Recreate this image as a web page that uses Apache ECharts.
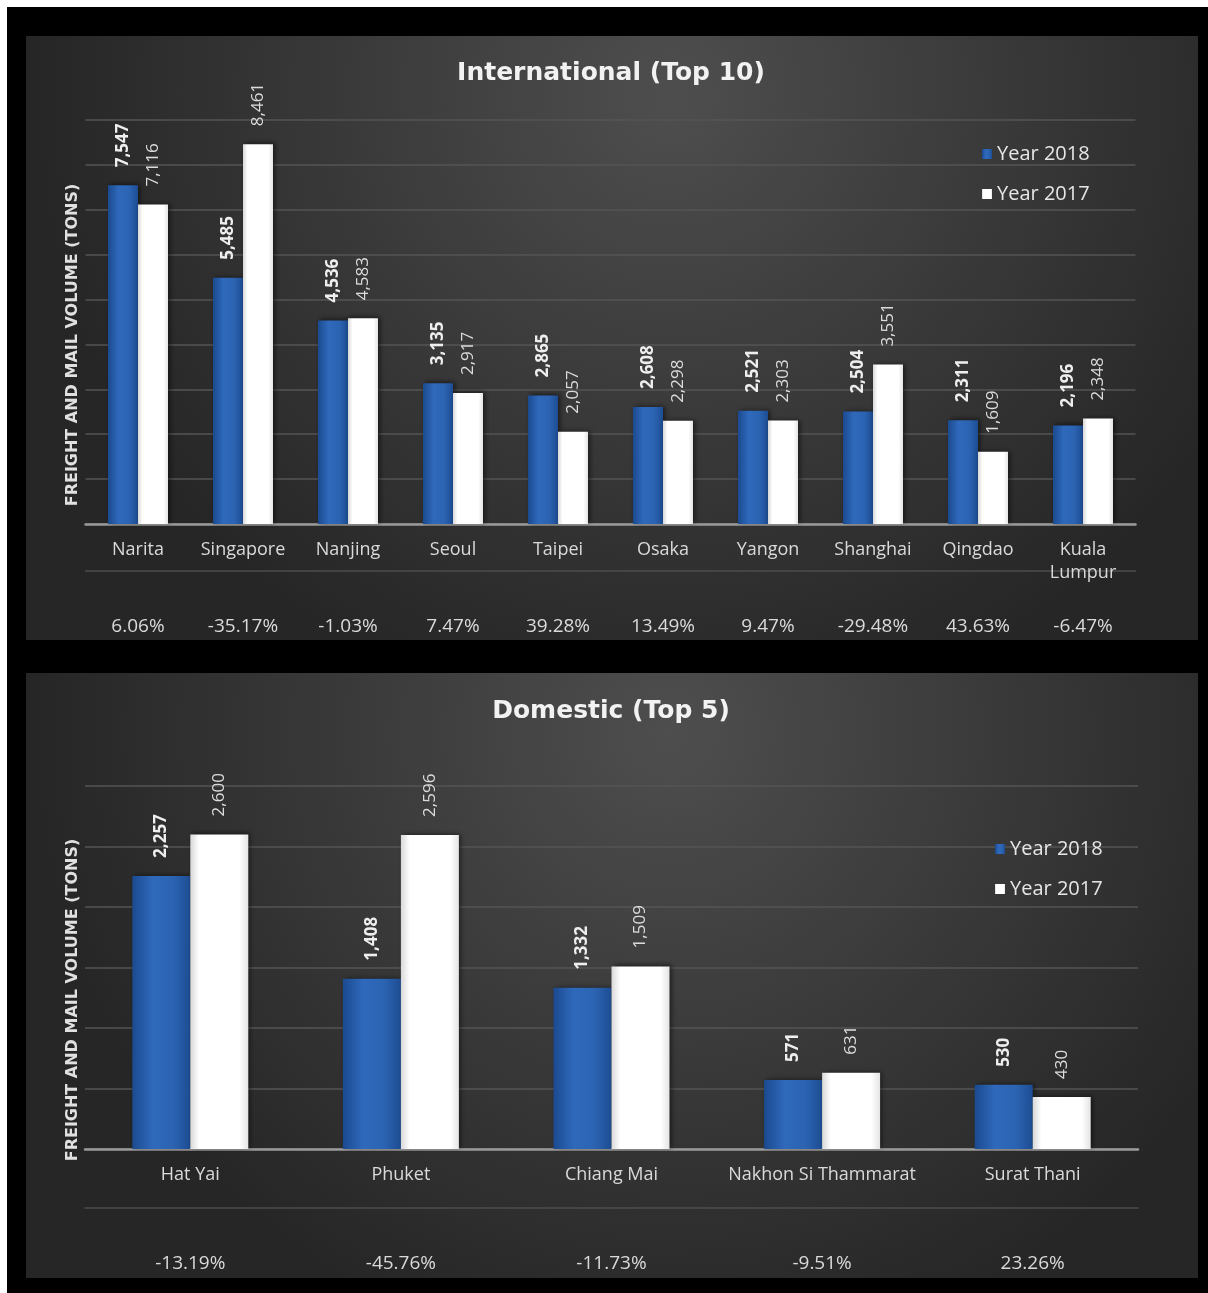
<!DOCTYPE html>
<html>
<head>
<meta charset="utf-8">
<script src="https://cdn.jsdelivr.net/npm/echarts@6/dist/echarts.min.js"></script>
<style>
html,body{margin:0;padding:0;background:#000;}
#c{width:1208px;height:1293px;}
</style>
</head>
<body>
<div id="c"></div>
<script>
// ---- Data ----
const intlCategories = ['Narita','Singapore','Nanjing','Seoul','Taipei','Osaka','Yangon','Shanghai','Qingdao','Kuala Lumpur'];
const intl2018 = [7547, 5485, 4536, 3135, 2865, 2608, 2521, 2504, 2311, 2196];
const intl2017 = [7116, 8461, 4583, 2917, 2057, 2298, 2303, 3551, 1609, 2348];
const intlChange = ['6.06%','-35.17%','-1.03%','7.47%','39.28%','13.49%','9.47%','-29.48%','43.63%','-6.47%'];

const domCategories = ['Hat Yai','Phuket','Chiang Mai','Nakhon Si Thammarat','Surat Thani'];
const dom2018 = [2257, 1408, 1332, 571, 530];
const dom2017 = [2600, 2596, 1509, 631, 430];
const domChange = ['-13.19%','-45.76%','-11.73%','-9.51%','23.26%'];

const seriesNames = ['Year 2018', 'Year 2017'];
const titles = ['International (Top 10)', 'Domestic (Top 5)'];
const yTitle = 'FREIGHT AND MAIL VOLUME (TONS)';

// ---- Styles ----
const FONT = "'Open Sans', 'DejaVu Sans', sans-serif";
const WIDE = "'DejaVu Sans', sans-serif";
const blueFill = {type:'linear', x:0, y:0, x2:1, y2:0, colorStops:[
  {offset:0, color:'#1b4a8f'},{offset:0.35, color:'#2f69bb'},{offset:0.7, color:'#2c64b3'},{offset:1, color:'#1d4d93'}]};
const whiteFill = {type:'linear', x:0, y:0, x2:1, y2:0, colorStops:[
  {offset:0, color:'#d8d8d8'},{offset:0.15, color:'#ffffff'},{offset:0.85, color:'#ffffff'},{offset:1, color:'#e4e4e4'}]};
const panelFill = {type:'radial', x:0.55, y:0.1, r:1.05, colorStops:[
  {offset:0, color:'#4e4e4e'},{offset:1, color:'#262626'}]};

const fmt = v => Number(v).toLocaleString('en-US');

function barSeries(name, data, gi, fill, bold, barW) {
  return {
    name: name, type: 'bar', xAxisIndex: gi*2, yAxisIndex: gi,
    data: data, barWidth: barW, barGap: '0%',
    itemStyle: {color: fill, shadowColor:'rgba(0,0,0,0.55)', shadowBlur:5, shadowOffsetX:2, shadowOffsetY:-1},
    label: {show:true, position:'top', rotate:90, align:'left', verticalAlign:'middle', distance:18,
      formatter: p => fmt(p.value), color: bold ? '#eeeeee' : '#dcdcdc',
      fontWeight: bold ? 'bold' : 'normal', fontSize: 17, fontFamily: FONT},
    emphasis: {disabled:true}
  };
}

function catAxis(gi, cats) {
  return {type:'category', gridIndex: gi, data: cats,
    axisLine:{show:true, lineStyle:{color:'#9a9a9a', width:2.5}},
    axisTick:{show:false},
    axisLabel:{interval:0, color:'#dadada', fontSize:18, fontFamily:FONT, margin:14, lineHeight:23,
      formatter: v => v === 'Kuala Lumpur' ? 'Kuala\nLumpur' : v}};
}
function pctAxis(gi, vals, off) {
  return {type:'category', gridIndex: gi, data: vals, position:'bottom', offset: off,
    axisLine:{show:true, lineStyle:{color:'#4c4c4c', width:1.5}},
    axisTick:{show:false},
    axisLabel:{interval:0, color:'#dadada', fontSize:19, fontFamily:FONT, margin:46}};
}
function valAxis(gi, max, interval) {
  return {type:'value', gridIndex: gi, min:0, max:max, interval:interval,
    axisLabel:{show:false}, axisLine:{show:false}, axisTick:{show:false},
    splitLine:{show:true, lineStyle:{color:'#545454', width:1.5}}};
}
function legendAt(left, top) {
  return {data: seriesNames, orient:'vertical', left:left, top:top, itemWidth:10, itemHeight:10,
    itemGap:20, icon:'rect', selectedMode:false,
    textStyle:{color:'#e6e6e6', fontSize:20, fontFamily:FONT}};
}

const chart = echarts.init(document.getElementById('c'), null, {renderer:'canvas'});
chart.setOption({
  backgroundColor:'#000',
  animation:false,
  graphic:[
    {type:'rect', shape:{x:0,y:0,width:1208,height:7}, style:{fill:'#ffffff'}, z:-10},
    {type:'rect', shape:{x:0,y:0,width:7,height:1293}, style:{fill:'#ffffff'}, z:-10},
    {type:'rect', shape:{x:26,y:36,width:1172,height:604}, style:{fill:panelFill}, z:-10},
    {type:'rect', shape:{x:26,y:673,width:1172,height:605}, style:{fill:panelFill}, z:-10},
    {type:'text', x:611, y:73, style:{text:titles[0], fill:'#f2f2f2', font:"bold 25px "+WIDE,
      textAlign:'center', textVerticalAlign:'middle', shadowColor:'rgba(0,0,0,0.8)', shadowBlur:4, shadowOffsetX:1, shadowOffsetY:2}},
    {type:'text', x:611, y:711, style:{text:titles[1], fill:'#f2f2f2', font:"bold 25px "+WIDE,
      textAlign:'center', textVerticalAlign:'middle', shadowColor:'rgba(0,0,0,0.8)', shadowBlur:4, shadowOffsetX:1, shadowOffsetY:2}},
    {type:'text', x:73, y:345, rotation:Math.PI/2, style:{text:yTitle, fill:'#e0e0e0', font:"bold 16px "+WIDE,
      textAlign:'center', textVerticalAlign:'middle'}},
    {type:'text', x:73, y:1000, rotation:Math.PI/2, style:{text:yTitle, fill:'#e0e0e0', font:"bold 16px "+WIDE,
      textAlign:'center', textVerticalAlign:'middle'}}
  ],
  legend:[legendAt(977, 139), legendAt(990, 834)],
  grid:[
    {left:85.5, top:120, width:1050, height:404},
    {left:85, top:786, width:1053, height:363}
  ],
  xAxis:[
    catAxis(0, intlCategories), pctAxis(0, intlChange, 47),
    catAxis(1, domCategories), pctAxis(1, domChange, 59)
  ],
  yAxis:[valAxis(0, 9000, 1000), valAxis(1, 3000, 500)],
  series:[
    barSeries(seriesNames[0], intl2018, 0, blueFill, true, 30),
    barSeries(seriesNames[1], intl2017, 0, whiteFill, false, 30),
    barSeries(seriesNames[0], dom2018, 1, blueFill, true, 58),
    barSeries(seriesNames[1], dom2017, 1, whiteFill, false, 58)
  ]
});
</script>
</body>
</html>
